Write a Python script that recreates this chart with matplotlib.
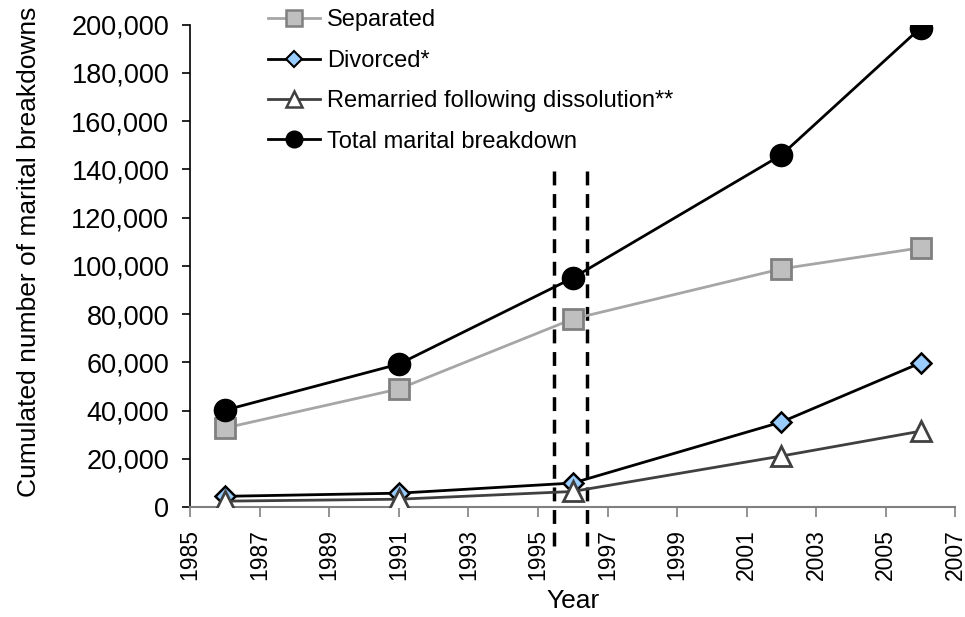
import matplotlib

matplotlib.use("Agg")
import matplotlib.pyplot as plt
from matplotlib.lines import Line2D

plt.rcParams["font.family"] = ["Liberation Sans", "DejaVu Sans"]

years = [1986, 1991, 1996, 2002, 2006]
separated = [32800, 49000, 78000, 98800, 107500]
divorced = [4500, 5800, 10000, 35300, 59800]
remarried = [2500, 3300, 6500, 21200, 31500]
total = [40200, 59300, 95000, 146000, 198700]
marker_lines = [1995.45, 1996.4]
x_ticks = list(range(1985, 2008, 2))
y_ticks = list(range(0, 200001, 20000))

fig = plt.figure(figsize=(9.65, 6.17), dpi=100)
ax = fig.add_axes([0.197, 0.178, 0.793, 0.782])

ax.plot(years, separated, color="#A6A6A6", lw=2, marker="s", ms=14,
        mfc="#BFBFBF", mec="#808080", mew=2, zorder=3)
ax.plot(years, divorced, color="black", lw=2, marker="D", ms=10,
        mfc="#99CCFF", mec="black", mew=1.8, zorder=4)
ax.plot(years, remarried, color="#404040", lw=2, marker="^", ms=14,
        mfc="white", mec="#404040", mew=2, zorder=5)
ax.plot(years, total, color="black", lw=2, marker="o", ms=16,
        mfc="black", mec="black", zorder=6)

# the two dashed markers run a little below the x axis
for xv in marker_lines:
    ax.plot([xv, xv], [-16000, 140000], color="black", lw=2.5,
            ls=(0, (4, 2.5)), clip_on=False, zorder=2)

ax.set_xlim(1985, 2007)
ax.set_ylim(0, 200000)
ax.set_xticks(x_ticks)
ax.set_xticklabels([str(x) for x in x_ticks], rotation=90)
ax.set_yticks(y_ticks)
ax.set_yticklabels([f"{y:,}" for y in y_ticks])
ax.tick_params(axis="y", labelsize=19.5, direction="out", length=6, width=1.2, pad=9)
ax.tick_params(axis="x", labelsize=16.5, direction="out", length=7, width=1.2, pad=9,
               color="#808080")
for side in ("top", "right"):
    ax.spines[side].set_visible(False)
ax.spines["left"].set_linewidth(1.2)
ax.spines["bottom"].set_color("#808080")
ax.spines["bottom"].set_linewidth(1.5)

ax.set_xlabel("Year", fontsize=19, labelpad=6)
ax.set_ylabel("Cumulated number of marital breakdowns", fontsize=19)
ax.yaxis.set_label_coords(-0.195, 0.53)

handles = [
    Line2D([], [], color="#A6A6A6", lw=2, marker="s", ms=11, mfc="#BFBFBF", mec="#808080", mew=1.8),
    Line2D([], [], color="black", lw=2, marker="D", ms=8, mfc="#99CCFF", mec="black", mew=1.5),
    Line2D([], [], color="#404040", lw=2, marker="^", ms=11, mfc="white", mec="#404040", mew=1.8),
    Line2D([], [], color="black", lw=2, marker="o", ms=12, mfc="black", mec="black"),
]
labels = ["Separated", "Divorced*", "Remarried following dissolution**", "Total marital breakdown"]
fig.legend(handles, labels, loc="upper left", bbox_to_anchor=(0.268, 1.0), frameon=False,
           fontsize=17, handlelength=2.2, handletextpad=0.3, labelspacing=0.78,
           borderaxespad=0)

fig.savefig("out.png", dpi=100)
